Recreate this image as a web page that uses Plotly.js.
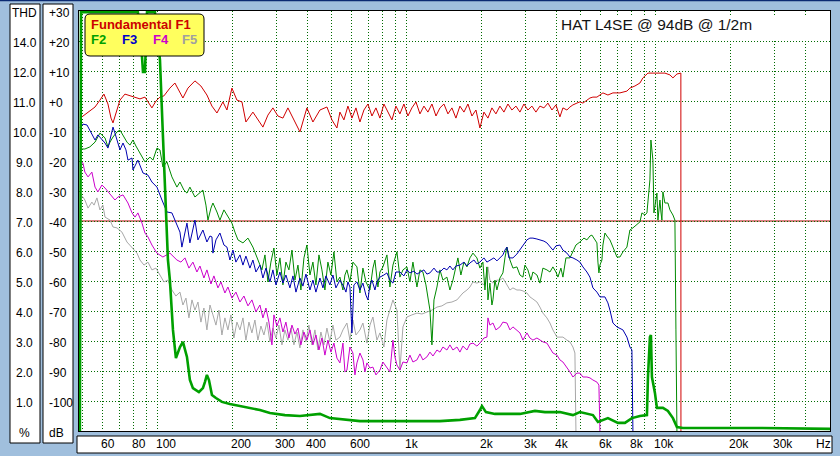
<!DOCTYPE html>
<html><head><meta charset="utf-8">
<script src="https://cdn.plot.ly/plotly-3.0.1.min.js"></script>
<style>html,body{margin:0;padding:0;background:#a0bfdd;} #chart{width:840px;height:456px;}</style>
</head><body><div id="chart"></div>
<script>
// ---------------- DATA (frequency in Hz, level in dB) ----------------
const f1Freq = [49.5,52.4,55.9,58.5,60.7,63.0,64.8,66.0,67.8,70.4,
73.7,77.2,80.9,84.7,88.7,92.0,94.6,98.2,101.9,105.7,
111.7,117.0,121.4,126.0,132.0,140.8,148.8,157.3,164.8,172.6,
182.4,189.3,198.2,207.6,217.5,225.6,240.7,252.1,264.0,276.5,
289.6,303.3,317.7,332.7,348.5,371.8,385.8,396.6,419.2,447.3,
477.2,499.8,523.4,538.1,558.4,579.5,601.3,624.0,647.5,671.9,
697.2,723.5,750.7,779.0,808.3,838.8,870.4,903.2,937.2,972.5,
1009,1047,1087,1128,1170,1214,1260,1308,1357,1408,
1461,1516,1573,1632,1694,1758,1824,1893,1964,2038,
2115,2194,2277,2363,2452,2544,2640,2740,2843,2950,
3061,3176,3296,3420,3549,3683,3822,3966,4115,4231,
4390,4514,4641,4816,4951,5090,5282,5431,5583,5794,
6124,6414,6718,7167,7646,7861,8233,8623,8865,9285,
9724,10375,10865,11380,11700,12141,12482,12590,12600];
const f1Db = [-5.3,-3.7,-2.0,0.3,2.3,-1.0,-5.7,-7.3,-4.0,0.3,
2.3,1.7,1.3,0.7,1.3,-1.0,-2.3,0,1.3,1.7,
4.3,6.0,3.7,1.0,4.3,6.7,5.0,2.0,-1.7,-4.0,
-0.3,-3.0,4.3,0.3,-0.3,-7.0,-3.7,-6.3,-8.7,-4.7,
-2.3,-5.0,-5.7,-2.3,-5.7,-10.3,-5.7,-2.3,-7.0,-3.0,
-2.0,-6.3,-9.0,-3.7,-6.3,-1.7,-5.7,-2.3,-7.0,-3.0,
-1.0,-5.0,-2.3,-5.7,-1.0,-3.7,-6.3,-1.7,-4.3,-1.0,
-5.0,-2.3,-0.3,-4.3,-1.7,-3.7,-1.0,-5.0,-2.3,-1.0,
-4.3,-2.3,-5.7,-1.7,-3.7,-1.0,-5.0,-3.0,-9.0,-3.7,
-5.7,-2.3,-4.3,-1.7,-3.7,-1.0,-3.0,-1.7,-3.7,-1.0,
-3.0,-1.7,-3.7,-1.7,-2.3,-0.7,-3.0,-1.3,-5.3,-2.3,
-3.0,-2.0,-1.3,-0.7,-0.3,-0.7,0.3,1.0,1.3,1.3,
2.7,2.0,2.7,2.7,3.3,4.3,5.0,6.0,7.7,9.3,
9.3,9.3,9.3,8.7,7.7,9.0,9.3,9.3,-110];

const f2Freq = [48.6,50.9,53.3,55.9,58.5,60.1,61.3,63.0,64.2,66.0,
68.5,70.4,73.0,75.1,77.2,79.4,81.6,84.7,88.7,92.9,
95.5,99.1,101.9,104.7,108.7,113.8,119.2,122.6,127.2,130.8,
134.4,140.8,146.1,151.6,155.9,158.8,163.3,166.3,172.6,177.4,
184.1,189.3,198.2,203.8,209.6,219.5,229.9,240.7,252.1,261.6,
269.0,276.5,284.3,292.3,300.5,309.0,317.7,326.6,335.8,345.3,
355.0,365.0,375.2,385.8,396.6,407.8,419.2,431.0,443.2,455.6,
468.4,481.6,495.2,509.1,523.4,538.1,553.3,563.6,574.1,590.3,
606.9,629.8,647.5,665.6,684.4,710.2,730.1,743.8,764.7,779.0,
800.9,831.1,854.4,878.5,911.6,937.2,963.6,1000,1028,1057,
1097,1128,1159,1192,1237,1260,1284,1320,1357,1395,
1447,1488,1530,1573,1602,1647,1694,1742,1790,1841,
1910,1964,2019,2057,2095,2115,2154,2194,2215,2256,
2298,2363,2429,2475,2521,2592,2665,2765,2843,2923,
2977,3061,3147,3206,3327,3420,3516,3649,3752,3857,
3966,4040,4153,4231,4350,4514,4641,4772,4951,5138,
5282,5431,5532,5688,5794,5848,5902,5957,6068,6124,
6239,6355,6534,6718,6971,7167,7368,7646,7861,8082,
8387,8623,8784,9031,9200,9285,9458,9546,9635,9724,
9815,9906,10091,10185,10375,10471,10568,10666,10865,11171,
11380,11700,11918,12029,12141];
const f2Db = [-16.0,-16.0,-15.3,-13.7,-10.7,-11.7,-12.3,-15.3,-13.7,-12.0,
-10.3,-9.7,-11.7,-13.7,-14.7,-13.0,-15.0,-17.3,-20.3,-18.7,
-19.7,-15.7,-16.3,-22.0,-20.3,-25.3,-28.7,-27.0,-29.7,-30.7,
-28.7,-32.0,-30.7,-29.7,-34.7,-39.7,-35.7,-34.0,-37.0,-39.7,
-36.3,-38.0,-40.7,-43.7,-46.3,-47.3,-45.7,-48.7,-53.0,-56.3,
-51.3,-60.3,-53.7,-49.0,-58.0,-52.3,-61.3,-53.7,-56.3,-49.7,
-59.7,-54.7,-63.0,-52.3,-48.0,-58.0,-53.7,-61.3,-51.3,-56.3,
-63.0,-53.7,-58.0,-50.3,-60.3,-58.7,-63.0,-58.0,-56.3,-60.3,
-53.7,-55.3,-64.0,-55.7,-60.3,-63.0,-55.7,-53.0,-62.0,-57.0,
-55.3,-51.3,-62.0,-54.7,-50.3,-58.7,-56.3,-55.3,-60.3,-53.7,
-62.0,-56.3,-57.0,-61.3,-69.7,-81.3,-66.3,-62.0,-56.3,-59.7,
-58.7,-63.0,-59.7,-54.7,-52.3,-58.0,-53.7,-55.3,-52.3,-50.7,
-52.3,-55.7,-53.7,-63.0,-55.3,-66.3,-60.7,-68.0,-66.3,-59.7,
-63.0,-59.0,-57.3,-52.3,-48.7,-53.0,-55.7,-55.3,-58.0,-58.7,
-54.7,-56.3,-59.7,-57.0,-58.0,-60.7,-55.7,-56.3,-57.0,-55.3,
-57.0,-58.7,-55.7,-58.7,-52.3,-52.3,-50.3,-48.0,-47.0,-45.7,
-46.3,-45.0,-44.7,-46.3,-47.3,-53.7,-57.3,-54.7,-53.0,-48.0,
-44.0,-45.0,-46.3,-48.7,-52.0,-52.0,-50.3,-48.7,-43.0,-42.3,
-41.3,-40.3,-37.3,-38.0,-37.3,-34.0,-26.3,-13.0,-15.7,-19.7,
-37.3,-34.7,-30.7,-39.7,-33.0,-37.0,-39.7,-30.3,-34.0,-34.0,
-36.3,-38.0,-39.7,-76.3,-110];

const f3Freq = [48.6,50.0,51.9,53.3,55.9,57.4,59.6,61.3,63.0,64.8,
66.0,67.2,68.5,70.4,72.4,74.4,75.8,78.7,79.4,83.1,
87.1,91.2,94.6,99.1,103.8,108.7,113.8,119.2,122.6,124.8,
128.4,130.8,134.4,138.2,140.8,144.8,151.6,157.3,161.8,164.8,
166.3,171.0,177.4,184.1,189.3,194.6,200.1,205.7,213.5,219.5,
225.6,234.1,240.7,247.5,256.8,264.0,271.5,281.7,289.6,297.8,
309.0,317.7,326.6,338.9,348.5,358.3,371.8,382.2,393.0,407.8,
419.2,431.0,447.3,459.9,472.8,490.6,504.4,518.6,538.1,558.4,
568.9,579.5,590.3,601.3,612.5,629.8,647.5,665.6,684.4,697.2,
710.2,723.5,743.8,757.7,779.0,808.3,831.1,854.4,878.5,903.2,
937.2,972.5,1000,1028,1067,1097,1128,1170,1203,1237,
1284,1320,1357,1408,1447,1488,1530,1573,1632,1694,
1742,1790,1858,1910,1964,2038,2095,2154,2235,2298,
2363,2429,2475,2521,2568,2665,2765,2843,2950,3033,
3118,3206,3327,3420,3549,3649,3752,3857,3966,4115,
4231,4390,4514,4641,4816,4951,5090,5282,5431,5583,
5794,5957,6239,6414,6534,6718,6971,7167,7368,7646,
7861,8008,8082];
const f3Db = [-9.0,-7.7,-8.0,-9.7,-13.0,-11.3,-13.0,-14.0,-15.7,-11.3,
-8.7,-10.7,-13.0,-16.3,-14.0,-16.3,-19.7,-19.0,-23.0,-19.7,
-24.0,-24.7,-27.0,-28.7,-33.0,-37.0,-37.3,-41.3,-43.7,-48.7,
-43.0,-40.7,-47.3,-42.3,-39.7,-46.3,-43.0,-47.0,-45.0,-45.3,
-50.7,-46.3,-44.0,-48.0,-48.7,-53.0,-49.7,-53.7,-51.3,-54.7,
-51.7,-55.7,-53.0,-57.0,-54.7,-59.0,-55.7,-60.3,-56.3,-61.3,
-57.0,-60.7,-58.0,-62.3,-58.3,-63.7,-59.0,-61.7,-57.7,-63.0,
-59.7,-63.7,-59.0,-62.3,-58.3,-61.3,-58.0,-62.3,-59.7,-62.0,
-63.7,-60.3,-62.0,-77.3,-61.3,-60.3,-63.0,-60.7,-64.7,-66.3,
-61.3,-59.7,-63.0,-60.3,-58.7,-58.0,-57.3,-59.7,-60.7,-57.0,
-57.0,-58.3,-56.3,-57.3,-56.7,-57.7,-57.0,-56.3,-57.7,-57.3,
-55.7,-57.0,-57.0,-55.7,-56.3,-55.0,-56.3,-55.0,-54.7,-53.7,
-55.0,-54.0,-53.0,-54.3,-53.7,-52.3,-53.7,-53.0,-52.3,-53.3,
-52.3,-51.3,-49.7,-48.7,-52.3,-52.3,-51.0,-49.7,-48.0,-46.3,
-45.7,-45.7,-46.0,-46.3,-46.7,-47.3,-48.7,-49.7,-48.3,-48.0,
-49.7,-50.7,-52.0,-52.3,-53.0,-53.7,-55.3,-57.0,-58.7,-62.3,
-63.7,-65.3,-65.3,-67.3,-69.7,-74.0,-75.3,-75.7,-76.3,-78.7,
-82.0,-83.0,-110];

const f4Freq = [48.6,50.0,50.9,52.4,54.3,55.9,57.4,59.6,61.3,63.0,
65.4,67.2,69.1,72.4,75.8,78.7,80.9,83.1,86.3,88.7,
91.2,94.6,99.1,104.7,111.7,119.2,123.7,128.4,133.2,138.2,
143.4,147.5,153.0,157.3,163.3,167.8,174.2,179.1,185.8,191.0,
198.2,205.7,213.5,221.5,229.9,238.5,247.5,256.8,264.0,271.5,
279.1,287.0,292.3,300.5,309.0,317.7,326.6,335.8,345.3,355.0,
365.0,375.2,385.8,396.6,407.8,419.2,431.0,443.2,455.6,468.4,
481.6,495.2,509.1,523.4,538.1,553.3,563.6,574.1,590.3,606.9,
618.2,629.8,647.5,665.6,678.1,690.8,710.2,730.1,750.7,779.0,
800.9,831.1,854.4,878.5,894.9,911.6,937.2,963.6,1000,1028,
1057,1097,1128,1159,1203,1237,1272,1320,1357,1395,
1447,1488,1530,1588,1632,1678,1742,1790,1841,1910,
1964,2038,2095,2115,2154,2215,2277,2363,2429,2521,
2592,2665,2765,2843,2923,3033,3118,3206,3327,3420,
3516,3649,3752,3857,4003,4115,4231,4390,4514,4641,
4816,4951,5090,5282,5431,5583,5794,5902,5957];
const f4Db = [-19.7,-20.7,-23.7,-25.3,-23.7,-28.7,-30.3,-28.0,-29.0,-30.3,
-32.0,-33.0,-32.0,-31.3,-34.0,-37.3,-38.7,-37.3,-40.7,-44.0,
-45.3,-48.0,-50.7,-52.0,-50.7,-53.0,-53.7,-52.3,-55.7,-53.7,
-57.0,-55.0,-59.0,-56.3,-61.0,-58.3,-62.3,-60.3,-64.0,-62.0,
-65.7,-63.7,-67.0,-65.0,-68.3,-66.3,-70.3,-68.0,-72.3,-69.0,
-73.7,-81.3,-71.3,-75.0,-72.3,-77.0,-73.7,-79.0,-74.7,-77.7,
-75.7,-81.3,-77.0,-79.7,-76.3,-81.3,-78.0,-83.0,-79.0,-84.7,
-79.7,-83.7,-80.7,-85.7,-87.3,-80.7,-90.3,-89.7,-82.0,-84.0,
-91.3,-87.3,-84.0,-86.3,-90.3,-87.3,-89.0,-88.7,-91.3,-89.7,
-87.0,-88.7,-90.3,-79.7,-85.3,-88.0,-89.7,-87.0,-87.3,-84.7,
-87.0,-86.3,-84.3,-86.3,-85.3,-83.7,-85.0,-83.0,-83.7,-82.0,
-83.0,-81.3,-83.0,-82.0,-83.7,-81.7,-83.0,-81.0,-80.7,-81.7,
-80.7,-79.0,-78.7,-72.3,-74.7,-74.0,-76.3,-75.3,-73.7,-74.0,
-76.3,-75.3,-76.3,-77.3,-79.7,-77.3,-79.0,-79.7,-79.0,-79.7,
-80.3,-80.7,-82.3,-84.0,-84.7,-86.3,-87.0,-88.7,-90.3,-92.0,
-90.7,-90.7,-92.0,-92.0,-92.3,-93.0,-93.7,-94.7,-110];

const f5Freq = [48.6,50.0,50.9,52.4,54.3,55.4,56.9,58.5,60.1,61.3,
64.2,66.0,68.5,71.7,75.1,78.7,82.4,84.7,87.9,91.2,
94.6,98.2,101.9,105.7,109.7,113.8,118.1,122.6,126.0,129.6,
133.2,137.0,140.8,144.8,148.8,153.0,157.3,161.8,166.3,171.0,
175.8,180.7,185.8,191.0,196.4,201.9,207.6,213.5,219.5,225.6,
232.0,238.5,245.2,252.1,259.2,266.5,274.0,281.7,289.6,297.8,
306.2,314.8,323.6,332.7,342.1,351.7,361.6,371.8,382.2,393.0,
404.0,415.4,427.1,439.1,451.4,464.1,477.2,490.6,504.4,518.6,
538.1,553.3,574.1,590.3,606.9,624.0,647.5,665.6,690.8,710.2,
730.1,757.7,779.0,808.3,831.1,854.4,878.5,911.6,937.2,963.6,
1000,1047,1097,1149,1203,1260,1320,1382,1447,1516,
1588,1632,1678,1742,1790,1841,1910,1964,2038,2095,
2115,2154,2215,2298,2363,2429,2521,2592,2665,2765,
2843,2923,3033,3118,3206,3327,3420,3516,3649,3752,
3857,4003,4115,4231,4390,4514,4641,4727,4772];
const f5Db = [-31.3,-32.0,-33.0,-35.7,-33.7,-34.7,-32.3,-36.3,-34.7,-38.7,
-39.7,-42.0,-42.3,-43.7,-47.0,-48.7,-50.7,-53.0,-54.7,-53.7,
-56.3,-55.7,-58.0,-60.3,-59.7,-63.0,-65.0,-63.7,-68.0,-65.7,
-72.3,-66.3,-69.7,-67.0,-73.7,-69.0,-76.3,-68.0,-71.3,-74.7,
-69.7,-78.0,-72.3,-76.3,-71.3,-79.0,-73.7,-76.3,-72.3,-79.7,
-73.7,-77.3,-73.0,-79.7,-75.0,-78.0,-73.7,-80.3,-75.7,-79.0,
-74.7,-81.3,-76.3,-79.7,-75.7,-81.3,-77.0,-82.3,-76.3,-80.3,
-74.7,-81.3,-76.3,-83.0,-77.0,-81.3,-75.7,-80.3,-74.7,-79.7,
-78.7,-76.3,-74.0,-79.7,-73.0,-78.0,-76.3,-74.0,-80.7,-74.7,
-72.0,-79.7,-77.3,-82.0,-73.0,-69.7,-66.3,-69.7,-89.7,-75.3,
-72.0,-71.3,-70.7,-71.0,-70.3,-69.7,-68.7,-68.3,-67.3,-67.0,
-66.3,-65.3,-64.0,-63.0,-62.0,-60.3,-60.7,-60.3,-61.3,-58.0,
-55.3,-59.7,-60.7,-59.7,-59.7,-59.0,-61.3,-63.0,-62.3,-63.0,
-63.0,-63.3,-64.0,-65.3,-66.0,-67.0,-68.7,-70.7,-72.3,-74.0,
-76.3,-78.7,-78.7,-78.7,-79.7,-80.3,-82.0,-84.0,-110];

const thdFreq = [48.6,49.1,83.1,85.5,87.1,88.7,90.4,97.3,100,101.9,
104.7,106.7,109.7,111.7,114.9,118.1,122.6,126.0,130.8,134.4,
138.2,146.1,151.6,154.4,157.3,160.3,164.8,171.0,180.7,194.6,
213.5,234.1,256.8,281.7,323.6,371.8,447.3,490.6,563.6,647.5,
937.2,1357,1632,1875,1964,2001,2076,2256,2843,3266,
3582,4115,4641,4951,5583,5848,6414,7036,7506,8008,
8623,9200,9285,9458,9546,9635,9906,10091,10666,11171,
11700,12141,12833,26160,50000];
const thdDb = [-110,29.6,29.6,20,9.7,9.7,29.6,29.6,20,13.7,
-11.3,-28,-53,-59.7,-76.3,-85.7,-82,-80.3,-85.3,-93.0,
-95.7,-97.0,-95.7,-93.7,-91.3,-93.0,-98.0,-99.0,-100.3,-101.0,
-101.7,-102.3,-103.0,-104.0,-104.7,-105.0,-104.3,-105.7,-106.3,-106.7,
-106.7,-106.7,-106.3,-105.7,-103.0,-101.7,-103.7,-104.3,-104.3,-103.3,
-103.7,-103.7,-104.7,-103.7,-104.7,-107.0,-105.7,-107.3,-107.3,-105.7,
-105.0,-104.7,-92.3,-78.7,-78.0,-92.0,-97.3,-102.3,-102.3,-103.3,
-105.7,-108.7,-109.0,-109.0,-109.3];

const thresholdDb = -40;
const gridFreqs = [50,60,70,80,90,100,200,300,400,500,600,700,800,900,1000,2000,3000,4000,5000,6000,7000,8000,9000,10000,20000,30000,40000,50000];
const xTickVals = [60,80,100,200,300,400,600,1000,2000,3000,4000,6000,8000,10000,20000,30000];
const xTickText = ['60','80','100','200','300','400','600','1k','2k','3k','4k','6k','8k','10k','20k','30k'];
const dbLevels = [30,20,10,0,-10,-20,-30,-40,-50,-60,-70,-80,-90,-100,-110];
const dbText = ['+30','+20','+10','+0','-10','-20','-30','-40','-50','-60','-70','-80','-90','-100','dB'];
const thdText = ['THD','14.0','12.0','11.0','10.0','9.0','8.0','7.0','6.0','5.0','4.0','3.0','2.0','1.0','%'];
const titleText = 'HAT L4SE @ 94dB @ 1/2m';

// ---------------- LAYOUT HELPERS ----------------
const W = 840, H = 456, ML = 79, MR = 10, MT = 11, MB = 25;
const PW = W - ML - MR, PH = H - MT - MB;
const px = x => (x - ML) / PW;
const py = y => (H - MB - y) / PH;
const FONT = 'Liberation Sans, Arial, sans-serif';

const traces = [
  {x: f5Freq, y: f5Db, mode: 'lines', line: {color: '#a8a8a8', width: 1}, name: 'F5'},
  {x: f4Freq, y: f4Db, mode: 'lines', line: {color: '#cc00cc', width: 1}, name: 'F4'},
  {x: f2Freq, y: f2Db, mode: 'lines', line: {color: '#008a00', width: 1}, name: 'F2'},
  {x: f3Freq, y: f3Db, mode: 'lines', line: {color: '#0000b0', width: 1}, name: 'F3'},
  {x: f1Freq, y: f1Db, mode: 'lines', line: {color: '#d00000', width: 1}, name: 'F1'},
  {x: thdFreq, y: thdDb, mode: 'lines', line: {color: '#00a000', width: 2.6}, name: 'THD'}
];

const shapes = [];
const annotations = [];
shapes.push({type: 'rect', xref: 'paper', yref: 'paper', x0: px(10), x1: px(40), y0: py(443), y1: py(4), fillcolor: '#fff', line: {color: '#000', width: 1}, layer: 'above'});
shapes.push({type: 'rect', xref: 'paper', yref: 'paper', x0: px(43), x1: px(73), y0: py(443), y1: py(4), fillcolor: '#fff', line: {color: '#000', width: 1}, layer: 'above'});
shapes.push({type: 'rect', xref: 'paper', yref: 'paper', x0: px(77), x1: px(832), y0: py(453), y1: py(436), fillcolor: '#fff', line: {color: '#000', width: 1}, layer: 'above'});
shapes.push({type: 'line', xref: 'paper', yref: 'paper', x0: px(0), x1: px(840), y0: py(0.5), y1: py(0.5), line: {color: '#0b2a72', width: 1.5}, layer: 'above'});
shapes.push({type: 'line', xref: 'paper', yref: 'y', x0: 0, x1: 1, y0: thresholdDb, y1: thresholdDb, line: {color: '#b00000', width: 1}, layer: 'between'});
shapes.push({type: 'rect', xref: 'paper', yref: 'paper', x0: px(557), x1: px(823), y0: py(41), y1: py(15), fillcolor: '#fff', line: {width: 0}, layer: 'above'});
(function(){
  const x0 = px(85), x1 = px(204), yT = py(14), yB = py(56), dx = 5 / PW, dy = 5 / PH;
  const p = `M ${x0+dx},${yT} L ${x1-dx},${yT} Q ${x1},${yT} ${x1},${yT-dy} L ${x1},${yB+dy} Q ${x1},${yB} ${x1-dx},${yB} L ${x0+dx},${yB} Q ${x0},${yB} ${x0},${yB+dy} L ${x0},${yT-dy} Q ${x0},${yT} ${x0+dx},${yT} Z`;
  shapes.push({type: 'path', xref: 'paper', yref: 'paper', path: p, fillcolor: '#ffff5e', line: {color: '#000', width: 1}, layer: 'above'});
})();

dbLevels.forEach((v, i) => {
  annotations.push({xref: 'paper', yref: 'y', x: px(24.5), y: v, yshift: -2, text: thdText[i], showarrow: false, xanchor: 'center', yanchor: 'middle', font: {family: FONT, size: 12, color: '#000'}});
  annotations.push({xref: 'paper', yref: 'y', x: px(46.5), y: v, yshift: -2, text: dbText[i], showarrow: false, xanchor: 'left', yanchor: 'middle', font: {family: FONT, size: 12, color: '#000'}});
});
xTickVals.forEach((v, i) => {
  annotations.push({xref: 'x', yref: 'paper', x: Math.log10(v), y: py(444.5), xshift: -4, text: xTickText[i], showarrow: false, xanchor: 'left', yanchor: 'middle', font: {family: FONT, size: 12, color: '#000'}});
});
annotations.push({xref: 'paper', yref: 'paper', x: px(814), y: py(444.5), text: 'Hz', showarrow: false, xanchor: 'left', yanchor: 'middle', font: {family: FONT, size: 12, color: '#000'}});
const legItems = [
  {t: 'Fundamental F1', c: '#cc0000', x: 89, y: 24.5},
  {t: 'F2', c: '#00a000', x: 89, y: 40},
  {t: 'F3', c: '#0000cc', x: 119.5, y: 40},
  {t: 'F4', c: '#cc00cc', x: 150.5, y: 40},
  {t: 'F5', c: '#a0a0a0', x: 179.5, y: 40}
];
legItems.forEach(l => annotations.push({xref: 'paper', yref: 'paper', x: px(l.x), y: py(l.y), text: '<b>' + l.t + '</b>', showarrow: false, xanchor: 'left', yanchor: 'middle', font: {family: FONT, size: 13, color: l.c}}));
annotations.push({xref: 'paper', yref: 'paper', x: px(559), y: py(25), text: titleText, showarrow: false, xanchor: 'left', yanchor: 'middle', font: {family: FONT, size: 15.5, color: '#141414'}});

const layout = {
  width: W, height: H,
  margin: {l: ML, r: MR, t: MT, b: MB, pad: 0},
  paper_bgcolor: '#a0bfdd', plot_bgcolor: '#ffffff',
  showlegend: false,
  xaxis: {type: 'log', range: [Math.log10(48.2), Math.log10(50000)], tickvals: gridFreqs, showticklabels: false, ticks: '',
          showgrid: true, gridcolor: '#006a00', griddash: '1px,2px', gridwidth: 1, showline: true, mirror: true, linecolor: '#000', linewidth: 1, zeroline: false},
  yaxis: {range: [-110, 30], tickvals: [-100,-90,-80,-70,-60,-50,-40,-30,-20,-10,0,10,20], showticklabels: false, ticks: '',
          showgrid: true, gridcolor: '#006a00', griddash: '1px,2px', gridwidth: 1, showline: true, mirror: true, linecolor: '#000', linewidth: 1, zeroline: false},
  shapes: shapes, annotations: annotations
};
Plotly.newPlot('chart', traces, layout, {displayModeBar: false, staticPlot: true});
</script>
</body></html>
